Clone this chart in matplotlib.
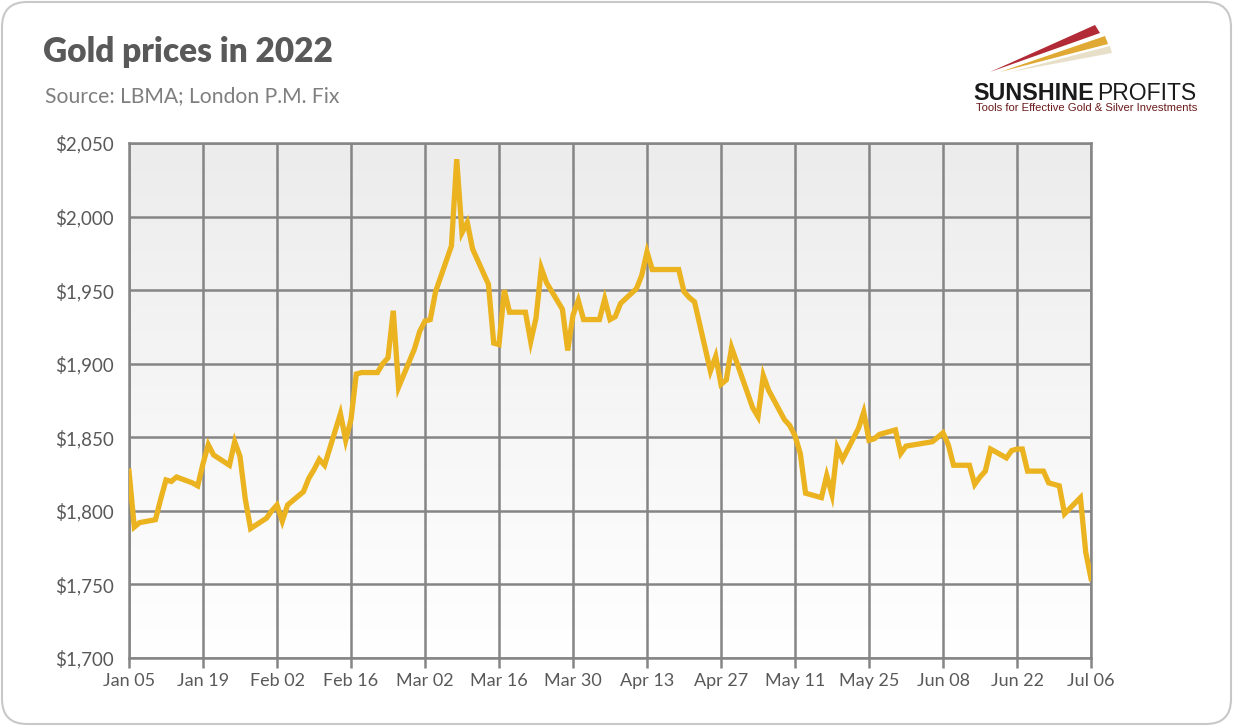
import numpy as np
import pandas as pd
import matplotlib
matplotlib.use("Agg")
import matplotlib.pyplot as plt
import matplotlib.dates as mdates
from matplotlib.patches import FancyBboxPatch, Polygon
from matplotlib.ticker import FuncFormatter

# LBMA gold P.M. fix
dates = [
    "2022-01-05", "2022-01-06", "2022-01-07", "2022-01-10", "2022-01-11", "2022-01-12",
    "2022-01-13", "2022-01-14", "2022-01-17", "2022-01-18", "2022-01-19", "2022-01-20",
    "2022-01-21", "2022-01-24", "2022-01-25", "2022-01-26", "2022-01-27", "2022-01-28",
    "2022-01-31", "2022-02-01", "2022-02-02", "2022-02-03", "2022-02-04", "2022-02-07",
    "2022-02-08", "2022-02-09", "2022-02-10", "2022-02-11", "2022-02-14", "2022-02-15",
    "2022-02-16", "2022-02-17", "2022-02-18", "2022-02-21", "2022-02-22", "2022-02-23",
    "2022-02-24", "2022-02-25", "2022-02-28", "2022-03-01", "2022-03-02", "2022-03-03",
    "2022-03-04", "2022-03-07", "2022-03-08", "2022-03-09", "2022-03-10", "2022-03-11",
    "2022-03-14", "2022-03-15", "2022-03-16", "2022-03-17", "2022-03-18", "2022-03-21",
    "2022-03-22", "2022-03-23", "2022-03-24", "2022-03-25", "2022-03-28", "2022-03-29",
    "2022-03-30", "2022-03-31", "2022-04-01", "2022-04-04", "2022-04-05", "2022-04-06",
    "2022-04-07", "2022-04-08", "2022-04-11", "2022-04-12", "2022-04-13", "2022-04-14",
    "2022-04-19", "2022-04-20", "2022-04-21", "2022-04-22", "2022-04-25", "2022-04-26",
    "2022-04-27", "2022-04-28", "2022-04-29", "2022-05-03", "2022-05-04", "2022-05-05",
    "2022-05-06", "2022-05-09", "2022-05-10", "2022-05-11", "2022-05-12", "2022-05-13",
    "2022-05-16", "2022-05-17", "2022-05-18", "2022-05-19", "2022-05-20", "2022-05-23",
    "2022-05-24", "2022-05-25", "2022-05-26", "2022-05-27", "2022-05-30", "2022-05-31",
    "2022-06-01", "2022-06-06", "2022-06-07", "2022-06-08", "2022-06-09", "2022-06-10",
    "2022-06-13", "2022-06-14", "2022-06-15", "2022-06-16", "2022-06-17", "2022-06-20",
    "2022-06-21", "2022-06-22", "2022-06-23", "2022-06-24", "2022-06-27", "2022-06-28",
    "2022-06-29", "2022-06-30", "2022-07-01", "2022-07-04", "2022-07-05", "2022-07-06",
]
prices = [
    1827, 1789, 1792, 1794, 1808, 1821,
    1820, 1823, 1819, 1817, 1832, 1845,
    1838, 1831, 1847, 1837, 1808, 1788,
    1795, 1800, 1804, 1793, 1804, 1813,
    1822, 1828, 1835, 1831, 1866, 1848,
    1862, 1893, 1894, 1894, 1900, 1904,
    1936, 1884, 1910, 1922, 1929, 1930,
    1949, 1980, 2039, 1989, 1996, 1978,
    1954, 1914, 1913, 1950, 1935, 1935,
    1915, 1931, 1965, 1955, 1937, 1909,
    1933, 1943, 1930, 1930, 1944, 1930,
    1932, 1941, 1951, 1960, 1976, 1964,
    1964, 1949, 1945, 1942, 1895, 1905,
    1886, 1889, 1911, 1870, 1864, 1892,
    1882, 1862, 1858, 1851, 1839, 1812,
    1809, 1824, 1811, 1843, 1835, 1856,
    1867, 1848, 1849, 1852, 1855, 1839,
    1844, 1847, 1850, 1853, 1845, 1831,
    1831, 1818, 1823, 1827, 1842, 1836,
    1841, 1842, 1842, 1827, 1827, 1819,
    1818, 1817, 1798, 1809, 1772, 1754,
]
y_ticks = [1700, 1750, 1800, 1850, 1900, 1950, 2000, 2050]

x = pd.to_datetime(dates)

fig = plt.figure(figsize=(12.33, 7.26), dpi=100)
fig.patch.set_facecolor("white")

# rounded outer frame
frame = FancyBboxPatch((0.02, 0.02), 12.29, 7.22,
                       boxstyle="round,pad=0,rounding_size=0.25",
                       transform=fig.dpi_scale_trans, fc="none",
                       ec="#c8c8c8", lw=1.5, zorder=-1)
fig.patches.append(frame)

ax = fig.add_axes([129 / 1233, 1 - 658 / 726, 962 / 1233, 515 / 726])
ax.set_facecolor("none")

# vertical gradient in plot area
grad = np.linspace(1, 0, 256).reshape(-1, 1)
cmap = matplotlib.colors.LinearSegmentedColormap.from_list("g", ["#ffffff", "#ececec"])
ax.imshow(grad, extent=[0, 1, 0, 1], transform=ax.transAxes, aspect="auto",
          cmap=cmap, zorder=0)

ax.plot(x, prices, color="#EAB31F", lw=3.8, solid_joinstyle="miter", zorder=3)

start = pd.Timestamp("2022-01-05")
end = pd.Timestamp("2022-07-06")
ax.set_xlim(start, end)
ax.set_ylim(1700, 2050)
ax.set_xticks(pd.date_range(start, end, freq="14D"))
ax.xaxis.set_major_formatter(mdates.DateFormatter("%b %d"))
ax.set_yticks(y_ticks)
ax.yaxis.set_major_formatter(FuncFormatter(lambda v, p: "${:,.0f}".format(v)))

ax.grid(True, color="#858585", lw=1.8, zorder=1)
ax.set_axisbelow(True)
for s in ax.spines.values():
    s.set_color("#858585")
    s.set_linewidth(1.8)
ax.tick_params(axis="x", length=7, width=1.8, color="#858585", labelsize=13,
               labelcolor="#595959", pad=4)
ax.tick_params(axis="y", length=0, labelsize=13.5, labelcolor="#595959", pad=11)
for lab in ax.get_xticklabels() + ax.get_yticklabels():
    lab.set_fontfamily("Lato")

fig.text(43 / 1233, 1 - 52 / 726, "Gold prices in 2022", fontsize=24,
         fontweight="heavy", color="#595959", family="Lato", va="center")
fig.text(45 / 1233, 1 - 96 / 726, "Source: LBMA; London P.M. Fix", fontsize=15.2,
         color="#7f7f7f", family="Lato", va="center")

# logo
fig.patches.append(Polygon([(990 / 1233, 1 - 72 / 726), (1095 / 1233, 1 - 25 / 726),
                            (1100 / 1233, 1 - 33 / 726)], closed=True,
                           transform=fig.transFigure, fc="#b22a35", ec="none"))
fig.patches.append(Polygon([(1000 / 1233, 1 - 72 / 726), (1105 / 1233, 1 - 36 / 726),
                            (1108 / 1233, 1 - 44 / 726)], closed=True,
                           transform=fig.transFigure, fc="#e0a934", ec="none"))
fig.patches.append(Polygon([(1010 / 1233, 1 - 72 / 726), (1110 / 1233, 1 - 46 / 726),
                            (1112 / 1233, 1 - 53 / 726)], closed=True,
                           transform=fig.transFigure, fc="#e7dfc8", ec="none"))
fig.text(973 / 1233, 1 - 93 / 726, "SUNSHINE", fontsize=16.8, fontweight="bold",
         color="#1a1a1a", family="Liberation Sans", va="center")
fig.text(1097 / 1233, 1 - 93 / 726, "PROFITS", fontsize=16.5, color="#1a1a1a",
         family="Liberation Sans", va="center")
fig.text(976 / 1233, 1 - 108 / 726, "Tools for Effective Gold & Silver Investments",
         fontsize=8.1, color="#6b1a1a", family="Liberation Sans", va="center")

fig.savefig("out.png", dpi=100, facecolor="white")
